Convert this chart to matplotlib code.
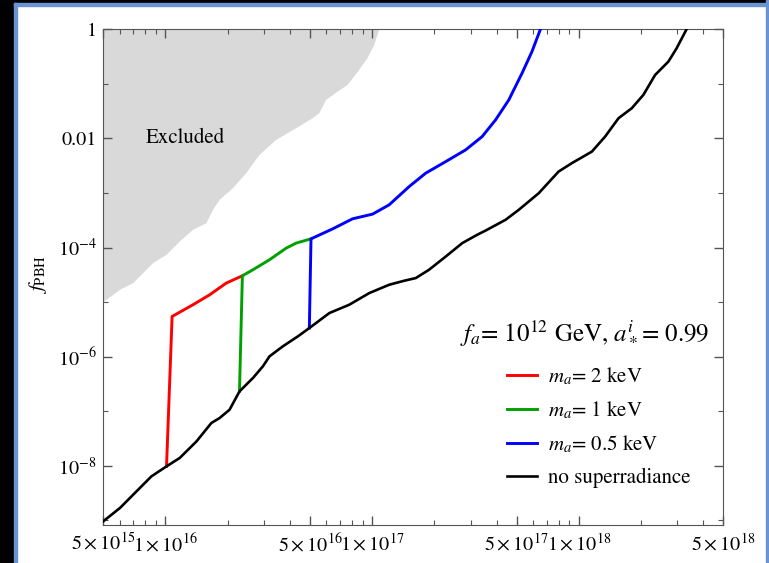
import numpy as np
import matplotlib
matplotlib.use("Agg")
import matplotlib.pyplot as plt
from matplotlib.patches import Rectangle
from matplotlib.ticker import FixedLocator, FixedFormatter, NullFormatter

plt.rcParams['font.family'] = 'STIXGeneral'
plt.rcParams['mathtext.fontset'] = 'stix'

# values, as log10(M) and log10(f_PBH)
black_logm = [15.699, 15.780, 15.844, 15.892, 15.932, 16.005, 16.069, 16.150, 16.222,
              16.262, 16.310, 16.358, 16.423, 16.471, 16.503, 16.567, 16.640, 16.696,
              16.793, 16.889, 16.986, 17.082, 17.154, 17.211, 17.275, 17.356, 17.436,
              17.508, 17.549, 17.645, 17.709, 17.806, 17.902, 17.966, 18.063, 18.127,
              18.192, 18.256, 18.312, 18.369, 18.433, 18.473, 18.521]
black_logf = [-9.018, -8.773, -8.529, -8.346, -8.194, -8.011, -7.857, -7.553, -7.216,
              -7.125, -6.973, -6.637, -6.392, -6.179, -5.996, -5.813, -5.630, -5.476,
              -5.201, -5.049, -4.835, -4.683, -4.610, -4.560, -4.408, -4.165, -3.919,
              -3.767, -3.689, -3.493, -3.310, -3.004, -2.608, -2.454, -2.242, -1.967,
              -1.630, -1.447, -1.203, -0.837, -0.593, -0.348, 0.0]

red_logm = [16.005, 16.032, 16.133, 16.214, 16.294, 16.372]
red_logf = [-8.011, -5.264, -5.049, -4.866, -4.652, -4.518]

green_logm = [16.358, 16.372, 16.423, 16.503, 16.584, 16.632, 16.704]
green_logf = [-6.637, -4.518, -4.408, -4.225, -4.011, -3.919, -3.841]

blue_logm = [16.696, 16.704, 16.809, 16.905, 17.002, 17.082, 17.179, 17.259, 17.356,
             17.452, 17.532, 17.597, 17.661, 17.725, 17.773, 17.814]
blue_logf = [-5.476, -3.841, -3.658, -3.474, -3.388, -3.218, -2.883, -2.637, -2.425,
             -2.211, -1.967, -1.661, -1.295, -0.806, -0.410, 0.0]

excl_logm = [15.699, 17.034, 17.010, 16.977, 16.937, 16.881, 16.833, 16.777, 16.744,
             16.712, 16.632, 16.536, 16.455, 16.431, 16.391, 16.326, 16.262, 16.230,
             16.198, 16.133, 16.069, 16.005, 15.940, 15.892, 15.844, 15.780, 15.715,
             15.699]
excl_logf = [0.0, 0.0, -0.288, -0.531, -0.745, -1.020, -1.143, -1.295, -1.538,
             -1.630, -1.813, -2.027, -2.302, -2.425, -2.637, -2.912, -3.126, -3.310,
             -3.553, -3.676, -3.890, -4.134, -4.286, -4.469, -4.652, -4.775, -4.958,
             -4.995]

labels = [r'$m_a$= 2 keV', r'$m_a$= 1 keV', r'$m_a$= 0.5 keV', 'no superradiance']
colors = ['#ff0000', '#00a000', '#0000ff', 'black']

xticks = [5e15, 1e16, 5e16, 1e17, 5e17, 1e18, 5e18]
xticklabels = [r'$5\times10^{15}$', r'$1\times10^{16}$', r'$5\times10^{16}$',
               r'$1\times10^{17}$', r'$5\times10^{17}$', r'$1\times10^{18}$',
               r'$5\times10^{18}$']
yticks = [1e-8, 1e-6, 1e-4, 1e-2, 1]
yticklabels = [r'$10^{-8}$', r'$10^{-6}$', r'$10^{-4}$', '0.01', '1']

fig = plt.figure(figsize=(7.69, 5.63), dpi=100)
ax = fig.add_axes([0.1343, 0.0675, 0.8063, 0.8805])

ax.set_xscale('log')
ax.set_yscale('log')

ax.fill(10 ** np.array(excl_logm), 10 ** np.array(excl_logf), color='#d9d9d9', lw=0, zorder=1)
ax.text(1.24e16, 0.0102, 'Excluded', fontsize=15, ha='center', va='center', zorder=2)

series = [(red_logm, red_logf), (green_logm, green_logf), (blue_logm, blue_logf),
          (black_logm, black_logf)]
for (lm, lf), c, lab in zip(series, colors, labels):
    ax.plot(10 ** np.array(lm), 10 ** np.array(lf), color=c, lw=2.1 if c != 'black' else 1.9,
            label=lab, zorder=3, solid_joinstyle='round')

ax.set_xlim(5e15, 5e18)
ax.set_ylim(10 ** -9.086, 1)

ax.xaxis.set_major_locator(FixedLocator(xticks))
ax.xaxis.set_major_formatter(FixedFormatter(xticklabels))
xminor = [m * 10.0 ** e for e in range(15, 19) for m in (2, 3, 4, 6, 7, 8, 9)]
ax.xaxis.set_minor_locator(FixedLocator(xminor))
ax.xaxis.set_minor_formatter(NullFormatter())

ax.yaxis.set_major_locator(FixedLocator(yticks))
ax.yaxis.set_major_formatter(FixedFormatter(yticklabels))
ax.yaxis.set_minor_locator(FixedLocator([1e-9, 1e-7, 1e-5, 1e-3, 1e-1]))
ax.yaxis.set_minor_formatter(NullFormatter())

ax.tick_params(which='both', direction='in', top=True, right=True, color='#555555',
               labelsize=14.5, pad=5)
ax.tick_params(which='major', length=6.5, width=1)
ax.tick_params(which='minor', length=3.5, width=0.8)
for s in ax.spines.values():
    s.set_color('#555555')

ax.set_ylabel(r'$f_{\rm PBH}$', fontsize=15)
ax.yaxis.set_label_coords(-0.088, 0.505)

ax.text(0.777, 0.389, r'$f_a$= $10^{12}$ GeV, $a_*^i$= 0.99', transform=ax.transAxes,
        fontsize=18, ha='center', va='center')
ax.legend(loc='upper left', bbox_to_anchor=(0.6506, 0.322), frameon=False, fontsize=15,
          borderpad=0, borderaxespad=0, handlelength=1.44, handletextpad=0.55,
          labelspacing=0.6)

# slide frame around the picture
blue = '#6a93d4'
fig.add_artist(Rectangle((0, 0), 13.5 / 769, 1, transform=fig.transFigure, color='black'))
fig.add_artist(Rectangle((0, 1 - 3 / 563), 1, 3 / 563, transform=fig.transFigure, color='black'))
fig.add_artist(Rectangle((13.5 / 769, 0), 3 / 769, 1 - 3 / 563, transform=fig.transFigure, color=blue))
fig.add_artist(Rectangle((13.5 / 769, 1 - 5.5 / 563), 1, 2.5 / 563, transform=fig.transFigure, color=blue))
fig.add_artist(Rectangle((766 / 769, 0), 3 / 769, 1, transform=fig.transFigure, color=blue))

fig.savefig('out.png', dpi=100)
